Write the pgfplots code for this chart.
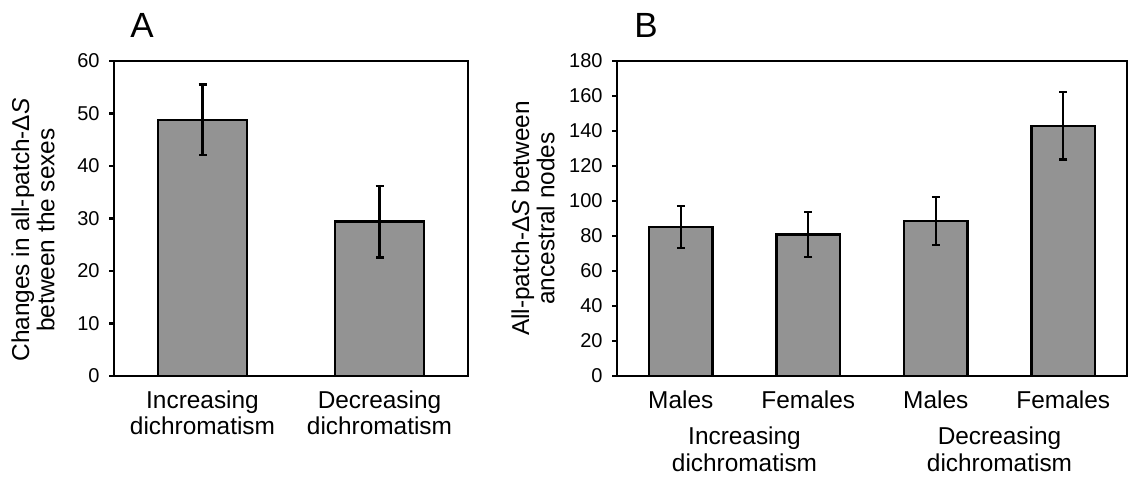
\documentclass[border=0pt]{standalone}
\usepackage{pgfplots}
\pgfplotsset{compat=1.18}
\usepackage{fontspec}
\setmainfont{Liberation Sans}
\definecolor{barfill}{RGB}{147,147,147}
\begin{document}
\begin{tikzpicture}
\pgfplotsset{
  common/.style={
    scale only axis,
    axis line style={line width=1.3pt},
    ybar, bar width=0.5,
    ymin=0, enlargelimits=false,
    ytick pos=left, tick align=outside, major tick length=2.5pt,
    ytick style={line width=1.2pt, black},
    xtick style={draw=none},
    yticklabel style={font=\fontsize{10}{11}\selectfont, xshift=-1.2pt},
    xticklabel style={font=\fontsize{12.2}{13.2}\selectfont, align=center, yshift=-1.2pt},
    ylabel style={font=\fontsize{12.2}{12.6}\selectfont, align=center, anchor=center},
    /pgf/number format/assume math mode=true,
    clip=false,
  },
  bars/.style={fill=barfill, draw=black, line width=1.2pt,
    error bars/.cd, y dir=both, y explicit,
    error bar style={line width=1.2pt, black},
    error mark options={rotate=90, mark size=2pt, line width=1.2pt, black}},
}
\begin{axis}[common,
  at={(57pt,-188pt)}, anchor=south west,
  width=177pt, height=157.5pt,
  xmin=-0.5, xmax=1.5, ymax=60, ytick={0,10,...,60},
  xtick={0,1}, xticklabels={Increasing\\dichromatism, Decreasing\\dichromatism},
  ylabel={Changes in all-patch-Δ\textit{S}\\between the sexes},
  ylabel style={at={(axis description cs:-0.2288,0.4635)}},
]
\addplot[bars] coordinates {(0,48.8) +- (0,6.75) (1,29.4) +- (0,6.85)};
\end{axis}
\begin{axis}[common,
  at={(308.5pt,-188pt)}, anchor=south west,
  width=255pt, height=157.5pt,
  xmin=-0.5, xmax=3.5, ymax=180, ytick={0,20,...,180},
  xtick={0,1,2,3}, xticklabels={Males, Females, Males, Females},
  ylabel={All-patch-Δ\textit{S} between\\ancestral nodes},
  ylabel style={at={(axis description cs:-0.1647,0.5)}},
]
\addplot[bars] coordinates {(0,85) +- (0,12) (1,80.9) +- (0,12.8) (2,88.5) +- (0,13.8) (3,143) +- (0,19.2)};
\node[font=\fontsize{12.2}{13.2}\selectfont, align=center, anchor=north] at (axis cs:0.5,0) [yshift=-22pt] {Increasing\\dichromatism};
\node[font=\fontsize{12.2}{13.2}\selectfont, align=center, anchor=north] at (axis cs:2.5,0) [yshift=-22pt] {Decreasing\\dichromatism};
\end{axis}
\node[font=\fontsize{17.5}{17.5}\selectfont, anchor=base west, inner sep=0pt] at (65pt,-18.85pt) {A};
\node[font=\fontsize{17.5}{17.5}\selectfont, anchor=base west, inner sep=0pt] at (317pt,-18.85pt) {B};
\pgfresetboundingbox
\path (0pt,0pt) rectangle (564pt,-239.5pt);
\end{tikzpicture}
\end{document}
